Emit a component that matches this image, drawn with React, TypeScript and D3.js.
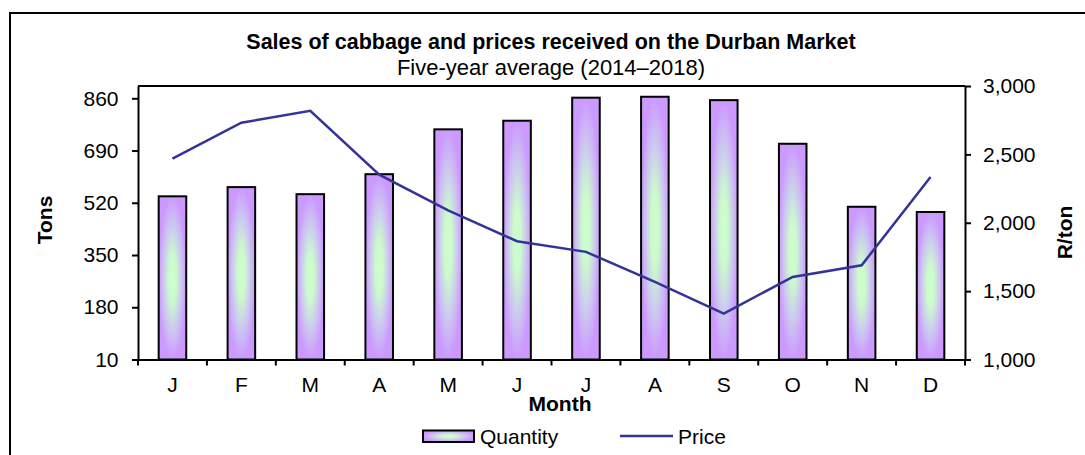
import React, { useEffect, useRef } from "react";
import * as d3 from "d3";

const months = ["J", "F", "M", "A", "M", "J", "J", "A", "S", "O", "N", "D"];
const quantity = [541, 571, 548, 613, 759, 787, 862, 865, 854, 712, 507, 490];
const price = [2469, 2732, 2818, 2352, 2091, 1865, 1787, 1567, 1336, 1604, 1689, 2335];
const tonsTicks = [10, 180, 350, 520, 690, 860];
const priceTicks = [1000, 1500, 2000, 2500, 3000];

const sizes = { width: 1085, height: 455 };
const plot = { left: 138, right: 965, top: 86, bottom: 359.5 };
const font = "'Liberation Sans', Arial, sans-serif";

const x = d3.scaleBand<number>()
  .domain(d3.range(months.length))
  .range([plot.left, plot.right])
  .paddingInner(0.6)
  .paddingOuter(0.3);

// band edges for the tick marks between months
const xEdge = d3.scaleBand<number>()
  .domain(d3.range(months.length))
  .range([plot.left, plot.right])
  .padding(0);

const yLeft = d3.scaleLinear().domain([10, 900]).range([plot.bottom, plot.top]);
const yRight = d3.scaleLinear().domain([1000, 3000]).range([plot.bottom, plot.top]);

export default function App() {
  const ref = useRef<SVGSVGElement>(null);

  useEffect(() => {
    const svg = d3.select(ref.current);
    svg.selectAll("*").remove();

    const defs = svg.append("defs");
    const grad = defs.append("radialGradient")
      .attr("id", "barFill")
      .attr("cx", "50%").attr("cy", "50%").attr("r", "50%");
    grad.append("stop").attr("offset", "0%").attr("stop-color", "#ccffcc");
    grad.append("stop").attr("offset", "28%").attr("stop-color", "#ccfacc");
    grad.append("stop").attr("offset", "62%").attr("stop-color", "#ccccee");
    grad.append("stop").attr("offset", "100%").attr("stop-color", "#cc99ff");

    // outer frame
    svg.append("rect")
      .attr("x", 10).attr("y", 13)
      .attr("width", 1100).attr("height", 460)
      .attr("fill", "none").attr("stroke", "#000").attr("stroke-width", 2);

    // titles
    svg.append("text")
      .attr("x", 551).attr("y", 49)
      .attr("text-anchor", "middle")
      .attr("font-family", font).attr("font-size", 21.5).attr("font-weight", "bold")
      .text("Sales of cabbage and prices received on the Durban Market");
    svg.append("text")
      .attr("x", 551).attr("y", 75)
      .attr("text-anchor", "middle")
      .attr("font-family", font).attr("font-size", 22)
      .text("Five-year average (2014\u20132018)");

    // bars
    svg.append("g")
      .selectAll("rect")
      .data(quantity)
      .join("rect")
        .attr("x", (d, i) => x(i)!)
        .attr("y", (d) => yLeft(d))
        .attr("width", x.bandwidth())
        .attr("height", (d) => yLeft(10) - yLeft(d))
        .attr("fill", "url(#barFill)")
        .attr("stroke", "#000")
        .attr("stroke-width", 2);

    // price line
    const line = d3.line<number>()
      .x((d, i) => x(i)! + x.bandwidth() / 2)
      .y((d) => yRight(d));
    svg.append("path")
      .datum(price)
      .attr("d", line)
      .attr("fill", "none")
      .attr("stroke", "#333399")
      .attr("stroke-width", 2.5);

    // plot frame top
    svg.append("line")
      .attr("x1", plot.left).attr("x2", plot.right)
      .attr("y1", plot.top).attr("y2", plot.top)
      .attr("stroke", "#000").attr("stroke-width", 2);

    const styleAxis = (g) => {
      g.attr("font-family", font).attr("font-size", 21);
      g.selectAll("path, line").attr("stroke", "#000").attr("stroke-width", 2);
    };

    svg.append("g")
      .attr("transform", `translate(${plot.left},0)`)
      .call(d3.axisLeft(yLeft).tickValues(tonsTicks).tickSize(6).tickSizeOuter(0).tickPadding(13.5))
      .call(styleAxis);

    svg.append("g")
      .attr("transform", `translate(${plot.right},0)`)
      .call(d3.axisRight(yRight).tickValues(priceTicks).tickSize(6).tickSizeOuter(0).tickPadding(12)
        .tickFormat(d3.format(",")))
      .call(styleAxis);

    const xg = svg.append("g")
      .attr("transform", `translate(0,${plot.bottom})`)
      .call(d3.axisBottom(x).tickSize(0).tickSizeOuter(0).tickPadding(17.3)
        .tickFormat((i) => months[i]))
      .call(styleAxis);
    xg.selectAll(".tick.edge")
      .data([...d3.range(months.length).map((i) => xEdge(i)!), plot.right])
      .join("line")
        .attr("x1", (d) => d).attr("x2", (d) => d)
        .attr("y1", 0).attr("y2", 6)
        .attr("stroke", "#000").attr("stroke-width", 2);

    // axis titles
    svg.append("text")
      .attr("transform", "translate(51.5,220) rotate(-90)")
      .attr("text-anchor", "middle")
      .attr("font-family", font).attr("font-size", 21).attr("font-weight", "bold")
      .text("Tons");
    svg.append("text")
      .attr("transform", "translate(1072,232.5) rotate(-90)")
      .attr("text-anchor", "middle")
      .attr("font-family", font).attr("font-size", 21).attr("font-weight", "bold")
      .text("R/ton");
    svg.append("text")
      .attr("x", 560).attr("y", 410.5)
      .attr("text-anchor", "middle")
      .attr("font-family", font).attr("font-size", 21).attr("font-weight", "bold")
      .text("Month");

    // legend
    const legend = svg.append("g").attr("font-family", font).attr("font-size", 21);
    legend.append("rect")
      .attr("x", 423).attr("y", 430.5)
      .attr("width", 51).attr("height", 11.5)
      .attr("fill", "url(#barFill)")
      .attr("stroke", "#000").attr("stroke-width", 2);
    legend.append("text").attr("x", 480).attr("y", 443.5).text("Quantity");
    legend.append("line")
      .attr("x1", 620).attr("x2", 673)
      .attr("y1", 436).attr("y2", 436)
      .attr("stroke", "#333399").attr("stroke-width", 2.5);
    legend.append("text").attr("x", 678).attr("y", 443.5).text("Price");
  }, []);

  return (
    <div style={{ position: "absolute", left: 0, top: 0 }}>
      <svg
        ref={ref}
        width={sizes.width}
        height={sizes.height}
        viewBox={`0 0 ${sizes.width} ${sizes.height}`}
        style={{ display: "block", background: "#fff" }}
      ></svg>
    </div>
  );
}
